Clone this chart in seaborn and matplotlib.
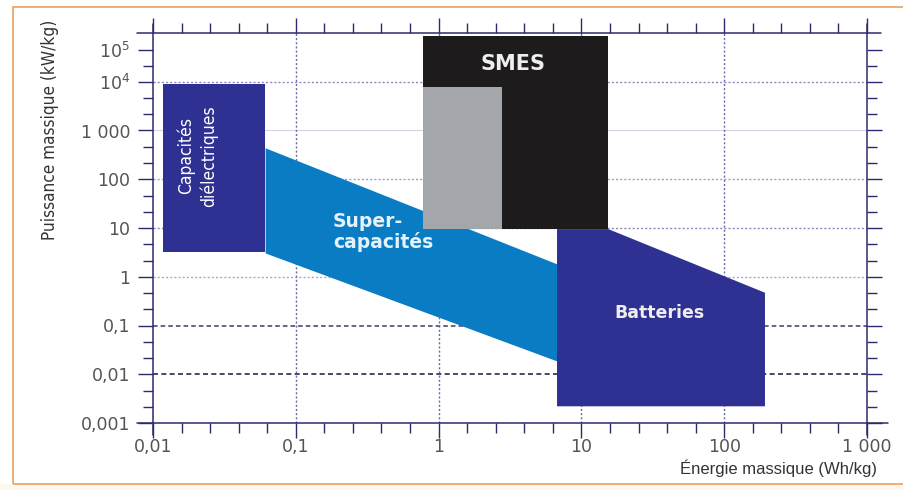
import matplotlib
matplotlib.use("Agg")
import matplotlib.pyplot as plt
from matplotlib.patches import Rectangle
from matplotlib.ticker import FixedLocator, FixedFormatter, NullFormatter
import seaborn as sns

# ---- axis ticks -------------------------------------------------------------
energy_ticks = [0.01, 0.1, 1, 10, 100, 1000]
energy_labels = ["0,01", "0,1", "1", "10", "100", "1 000"]
power_ticks = [0.001, 0.01, 0.1, 1, 10, 100, 1000, 1e4, 10 ** 4.66]
power_labels = ["0,001", "0,01", "0,1", "1", "10", "100", "1 000",
                r"$\mathregular{10^4}$", r"$\mathregular{10^5}$"]

# ---- technology domains (Wh/kg, kW/kg) ------------------------------------
capa_energy = [0.0117, 0.061]
capa_power = [3.2, 9100]

supercapa_energy = [0.061, 6.75]
supercapa_power_high = [442, 1.83]
supercapa_power_low = [3.08, 0.0187]

smes_energy = [0.78, 15.4]
smes_power = [9.5, 8.8e4]
smes_inner_energy = [0.78, 2.78]
smes_inner_power = [9.5, 7900]

battery_energy = [6.75, 15.4, 193, 193, 6.75]
battery_power = [9.5, 9.5, 0.47, 0.0022, 0.0022]

# ---- style ------------------------------------------------------------------
sns.set_theme(style="white")
plt.rcParams["font.family"] = ["DejaVu Sans"]

DARK_BLUE = "#2e3192"
LIGHT_BLUE = "#0a7cc4"
SMES_BLACK = "#1d1b1b"
SMES_GREY = "#a3a6ab"
AXIS = "#2b2b70"
NARROW = ["Liberation Sans", "DejaVu Sans"]

W, H = 904, 490
fig = plt.figure(figsize=(W / 100, H / 100), dpi=100)
fig.patch.set_facecolor("white")

# page frame
fig.patches.append(Rectangle((0, 0), 1, 1 - 484 / H, transform=fig.transFigure,
                             facecolor="#fcf7ef", edgecolor="none", zorder=-2))
fig.patches.append(Rectangle((13 / W, 1 - 484 / H), 1.2, (484 - 7) / H,
                             transform=fig.transFigure, facecolor="none",
                             edgecolor="#eaa86a", lw=1.3, zorder=-1))

ax = fig.add_axes([153 / W, 1 - 423 / H, (867 - 153) / W, (423 - 33) / H])
ax.set_facecolor("none")
ax.set_xscale("log")
ax.set_yscale("log")
ax.set_xlim(0.01, 1000)
ax.set_ylim(1e-3, 1e5)

# grid
grid_h = {1e4: ("#8a8ac0", (0, (1.5, 1.5)), 1.0),
          1000: ("#d4d5e4", "-", 0.8),
          100: ("#a0a0c8", (0, (1.5, 1.5)), 1.0),
          10: ("#8a8ab8", (0, (1.5, 1.5)), 1.0),
          1: ("#a8a8cc", (0, (1.5, 1.5)), 1.0),
          0.1: ("#3a3a6a", (0, (3, 2)), 1.1),
          0.01: ("#26264e", (0, (3, 2)), 1.2)}
for yv, (c, ls, lw) in grid_h.items():
    ax.axhline(yv, color=c, ls=ls, lw=lw, zorder=1)
for xv in [0.1, 1, 10, 100]:
    ax.axvline(xv, color="#6a6aa8", ls=(0, (1.5, 1.5)), lw=1.0, zorder=1)

# domains
ax.fill_between(supercapa_energy, supercapa_power_low, supercapa_power_high,
                color=LIGHT_BLUE, lw=0, zorder=2)
ax.fill([capa_energy[0], capa_energy[1], capa_energy[1], capa_energy[0]],
        [capa_power[0], capa_power[0], capa_power[1], capa_power[1]],
        color=DARK_BLUE, lw=0, zorder=3)
ax.fill([smes_energy[0], smes_energy[1], smes_energy[1], smes_energy[0]],
        [smes_power[0], smes_power[0], smes_power[1], smes_power[1]],
        color=SMES_BLACK, lw=0, zorder=3)
ax.fill([smes_inner_energy[0], smes_inner_energy[1], smes_inner_energy[1], smes_inner_energy[0]],
        [smes_inner_power[0], smes_inner_power[0], smes_inner_power[1], smes_inner_power[1]],
        color=SMES_GREY, lw=0, zorder=4)
ax.fill(battery_energy, battery_power, color=DARK_BLUE, lw=0, zorder=3)

# labels inside the domains
ax.text(0.0205, 300, "Capacités\ndiélectriques", rotation=90, color="white",
        ha="center", va="center", fontsize=12.5, linespacing=1.3,
        family=["DejaVu Sans"], fontstretch="condensed", zorder=5)
ax.text(0.182, 8.3, "Super-\ncapacités", color="#e4f2fb", ha="left", va="center",
        fontsize=13.5, fontweight="bold", linespacing=1.1, zorder=5)
ax.text(3.32, 2.3e4, "SMES", color="#eeeeee", ha="center", va="center",
        fontsize=15, fontweight="bold", zorder=5)
ax.text(35.5, 0.18, "Batteries", color="#eeeeee", ha="center", va="center",
        fontsize=12.5, fontweight="bold", zorder=5)

# axis frame: lines crossing at the corners
for spine in ax.spines.values():
    spine.set_visible(False)
frame_kw = dict(transform=ax.transAxes, clip_on=False, color=AXIS, lw=1.1, zorder=6)
ax.plot([-0.023, 1.03], [0, 0], **frame_kw)
ax.plot([-0.023, 1.02], [1, 1], **frame_kw)
ax.plot([0, 0], [-0.03, 1.022], **frame_kw)
ax.plot([1, 1], [-0.03, 1.022], **frame_kw)

# ticks
ax.xaxis.set_major_locator(FixedLocator(energy_ticks))
ax.xaxis.set_major_formatter(FixedFormatter(energy_labels))
ax.yaxis.set_major_locator(FixedLocator(power_ticks))
ax.yaxis.set_major_formatter(FixedFormatter(power_labels))
x_minor = [10 ** (k + f) for k in range(-2, 3) for f in (0.2, 0.4, 0.6, 0.8)]
y_minor = [10 ** (k + f) for k in range(-3, 4) for f in (1 / 3, 2 / 3)] + [10 ** 4.33]
ax.xaxis.set_minor_locator(FixedLocator(x_minor))
ax.yaxis.set_minor_locator(FixedLocator(y_minor))
ax.xaxis.set_minor_formatter(NullFormatter())
ax.yaxis.set_minor_formatter(NullFormatter())
ax.tick_params(which="both", direction="out", color=AXIS, width=1.0,
               top=True, right=True, bottom=True, left=True,
               labeltop=False, labelright=False)
ax.tick_params(which="major", length=10.5)
ax.tick_params(which="minor", length=7.5)
ax.tick_params(axis="x", which="major", pad=0.5, labelsize=12.5, labelcolor="#555555")
ax.tick_params(axis="y", which="major", pad=6, labelsize=12.5, labelcolor="#555555")

ax.set_xlabel("Énergie massique (Wh/kg)", fontsize=12, color="#333333",
              ha="right", family=NARROW)
ax.xaxis.set_label_coords(1.014, -0.093)
ax.set_ylabel("Puissance massique (kW/kg)", fontsize=12.3, color="#333333",
              family=["DejaVu Sans"], fontstretch="condensed")
ax.yaxis.set_label_coords(-0.132, 0.751)

fig.savefig("out.png", dpi=100)
